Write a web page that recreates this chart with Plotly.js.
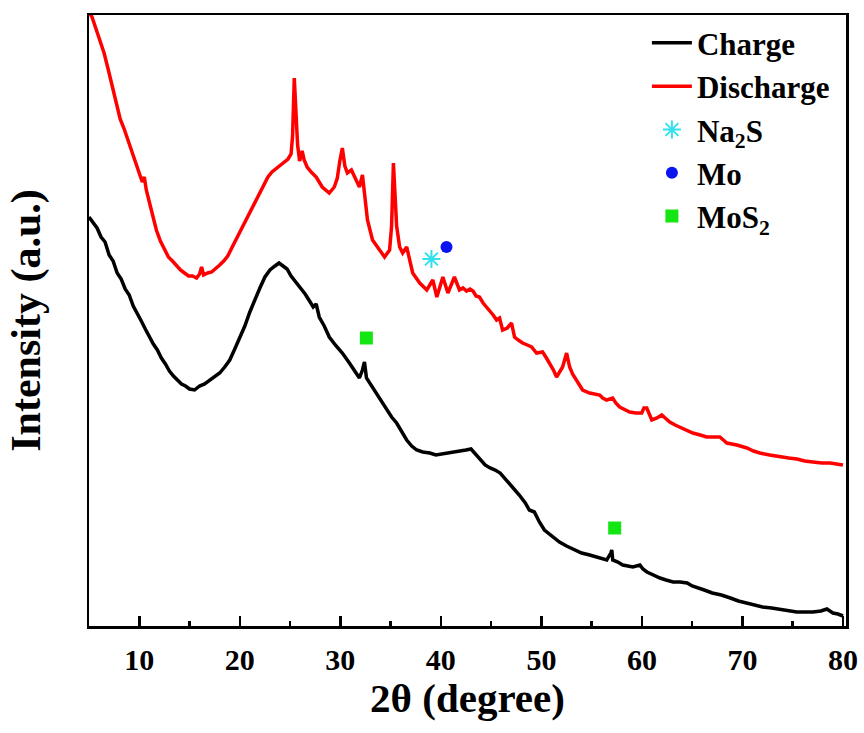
<!DOCTYPE html>
<html>
<head>
<meta charset="utf-8">
<script src="https://cdn.plot.ly/plotly-3.0.1.min.js"></script>
<style>html,body{margin:0;padding:0;background:#fff;}#chart{width:864px;height:733px;}</style>
</head>
<body>
<div id="chart"></div>
<script>
// Charge curve (black)
const chargeX = [5.0,5.4,5.8,6.2,6.6,7.0,7.4,7.8,8.2,8.6,9.0,9.4,9.8,10.2,10.6,11.0,11.4,11.8,12.2,12.6,13.0,13.4,13.8,14.2,14.6,15.0,15.5,16.0,16.5,17.0,17.5,18.0,18.5,19.0,19.5,20.0,20.5,21.0,21.5,22.0,22.5,23.0,23.5,23.9,24.3,24.7,25.1,25.5,26.0,26.5,27.0,27.3,27.6,27.9,28.4,28.9,29.5,30.2,30.9,31.6,31.9,32.2,32.4,32.6,33.1,33.6,34.1,34.6,35.1,35.6,36.1,36.6,37.1,37.6,38.2,38.9,39.5,40.2,40.9,41.7,42.5,43.0,43.5,43.9,44.4,44.9,45.4,45.9,46.5,47.2,47.8,48.4,48.8,49.3,49.8,50.3,51.0,51.8,52.5,53.3,54.0,54.8,55.4,55.8,56.5,56.9,57.0,57.1,57.6,58.1,58.6,59.1,59.8,60.1,60.5,61.1,61.8,62.4,63.1,63.8,64.5,65.0,65.5,66.2,67.0,67.9,68.8,69.6,70.4,71.2,72.0,72.9,73.7,74.6,75.4,76.2,77.0,77.8,78.4,79.0,79.5,80.0];
const chargeY = [409,403,398,389,384,371,365,353,347,337,331,320,313,305,297,289,282,276,268,262,255,250,246,242,240,237,236,240,242,246,249,253,259,266,277,288,300,314,327,338,349,356,360,363,360,357,350,345,339,332,324,319,322,309,300,289,281,273,263,253,248,256,264,248,240,233,225,216,209,203,194,186,180,176,174,173,171,172,173,175,176,177,171,166,161,158,156,153,146,139,131,123,116,114,104,96,90,84,80,76,73,71,69,68,66,73,76,66,64,61,60,59,61,57,54,51,48,46,44,44,43,40,38,36,33,31,28,25,23,21,19,18,17,15,14,14,14,15,17,13,12,10];

// Discharge curve (red)
const dischargeX = [5.0,5.3,5.7,6.1,6.5,6.9,7.3,7.7,8.1,8.5,8.9,9.2,9.6,10.0,10.3,10.5,10.7,11.0,11.3,11.7,12.1,12.5,12.9,13.3,13.7,14.1,14.5,14.9,15.3,15.7,16.0,16.2,16.4,16.8,17.2,17.6,18.0,18.4,18.8,19.2,19.6,20.0,20.4,20.8,21.2,21.6,22.0,22.4,22.8,23.2,23.6,24.0,24.4,24.8,25.1,25.25,25.42,25.6,25.75,25.95,26.2,26.4,26.7,27.1,27.6,28.2,28.9,29.4,29.7,29.95,30.2,30.45,30.7,31.1,31.6,31.9,32.05,32.2,32.4,32.7,33.2,33.9,34.4,34.9,35.1,35.28,35.45,35.6,35.9,36.2,36.6,36.9,37.2,37.9,38.6,39.2,39.6,40.2,40.7,41.35,41.85,42.2,42.55,42.9,43.2,43.5,43.84,44.2,44.54,44.84,45.2,45.54,45.84,46.14,46.6,47.03,47.33,47.7,48.13,48.6,49.02,49.52,50.12,50.5,50.82,51.2,51.51,51.8,52.11,52.51,52.81,53.1,53.51,54.1,54.8,55.3,55.8,56.1,56.49,57.09,57.4,57.79,58.3,58.78,59.4,59.98,60.2,60.48,60.98,61.5,61.97,62.4,62.77,63.3,63.76,64.4,65.06,65.8,66.45,67.1,67.75,68.1,68.45,69.44,70.44,71.1,71.73,72.7,73.73,74.6,75.42,76.2,77.01,77.9,78.71,79.4,80.0];
const dischargeY = [614,609,597,585,573,557,541,525,507,497,485,476,464,452,444,449,436,424,411,396,385,376,369,365,360,356,353,350,350,348,352,359,351,353,354,357,361,365,370,378,386,394,402,409,417,425,433,442,449,454,457,460,463,467,472,490,548,500,481,465,475,466,459,454,449,439,433,439,448,465,478,460,453,456,446,439,445,451,433,406,386,376,369,376,400,463,430,400,379,373,379,366,353,343,336,346,329,349,333,349,336,338,335,337,335,330,329,323,319,316,311,306,308,296,298,303,289,286,283,281,279,273,274,268,263,256,249,254,259,273,259,252,246,236,233,232,231,228,226,228,223,219,216,214,213,213,218,218,206,208,211,207,204,201,199,196,193,191,189,189,189,186,183,181,178,175,173,171,169,168,167,165,164,163,163,162,161];

// Phase markers
const na2sX = [39.06];
const na2sY = [367];
const moX = [40.56];
const moY = [379];
const mos2X = [32.59, 57.29];
const mos2Y = [288, 98];

const xTicks = [10,20,30,40,50,60,70,80];

const serif = 'Liberation Serif, Times New Roman, serif';

const traces = [
  {x: chargeX, y: chargeY, type: 'scatter', mode: 'lines', name: '<b>Charge</b>', legendgroup: 'a',
   line: {color: '#000000', width: 3.5}},
  {x: dischargeX, y: dischargeY, type: 'scatter', mode: 'lines', name: '<b>Discharge</b>', legendgroup: 'b',
   line: {color: '#ff0000', width: 3.5}},
  {x: na2sX, y: na2sY, type: 'scatter', mode: 'markers', name: '<b>Na<sub>2</sub>S</b>', legendgroup: 'c',
   marker: {symbol: 'asterisk-open', size: 15, color: '#33e0ee', line: {color: '#33e0ee', width: 2}}},
  {x: moX, y: moY, type: 'scatter', mode: 'markers', name: '<b>Mo</b>', legendgroup: 'd',
   marker: {symbol: 'circle', size: 12, color: '#0a14f0'}},
  {x: mos2X, y: mos2Y, type: 'scatter', mode: 'markers', name: '<b>MoS<sub>2</sub></b>', legendgroup: 'e',
   marker: {symbol: 'square', size: 13, color: '#14e614'}}
];

const layout = {
  width: 864, height: 733,
  margin: {l: 89, r: 18, t: 15, b: 107},
  paper_bgcolor: '#ffffff', plot_bgcolor: '#ffffff',
  showlegend: true,
  legend: {x: 0.737, y: 0.998, xanchor: 'left', yanchor: 'top',
    font: {family: serif, size: 31, color: '#000'}, bgcolor: 'rgba(0,0,0,0)',
    tracegroupgap: 0, itemwidth: 40},
  xaxis: {
    range: [5, 80.3], tickvals: xTicks, ticktext: xTicks.map(v => '<b>' + v + '</b>'),
    ticks: 'inside', ticklen: 10, tickwidth: 2.5, tickcolor: '#000',
    minor: {dtick: 5, tick0: 5, ticks: 'inside', ticklen: 5, tickwidth: 2.5, tickcolor: '#000'},
    showline: true, linewidth: 2.5, linecolor: '#000', mirror: true,
    showgrid: false, zeroline: false, ticklabelstandoff: 5,
    tickfont: {family: serif, size: 30, color: '#000'},
    title: {text: '<b>2θ (degree)</b>', font: {family: serif, size: 41, color: '#000'}, standoff: 0}
  },
  yaxis: {
    range: [0, 611], showticklabels: false, ticks: '',
    showline: true, linewidth: 2.5, linecolor: '#000', mirror: true,
    showgrid: false, zeroline: false,
    title: {text: '<b>Intensity (a.u.)</b>', font: {family: serif, size: 42, color: '#000'}, standoff: 33}
  }
};

Plotly.newPlot('chart', traces, layout, {displayModeBar: false, staticPlot: true});
</script>
</body>
</html>
